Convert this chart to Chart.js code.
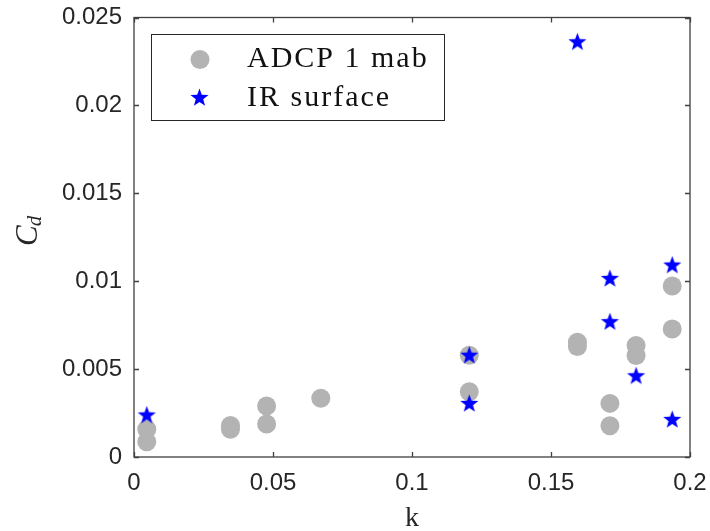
<!DOCTYPE html>
<html>
<head>
<meta charset="utf-8">
<script src="https://cdn.jsdelivr.net/npm/chart.js@4"></script>
<style>
html,body{margin:0;padding:0;background:#fff;}
#wrap{width:710px;height:531px;position:relative;}
</style>
</head>
<body>
<div id="wrap"><canvas id="c"></canvas></div>
<script>
// ---- data ----
const seriesNames = ['ADCP 1 mab', 'IR surface'];
const kADCP  = [0.0046, 0.0046, 0.0347, 0.0347, 0.0477, 0.0477, 0.0672, 0.1206, 0.1206, 0.1595, 0.1595, 0.1712, 0.1712, 0.1806, 0.1806, 0.1936, 0.1936];
const cdADCP = [0.00087, 0.00158, 0.00158, 0.00179, 0.00188, 0.0029, 0.00334, 0.00371, 0.00579, 0.00629, 0.00653, 0.00178, 0.00305, 0.00577, 0.00634, 0.00728, 0.00973];
const kIR    = [0.0046, 0.1206, 0.1206, 0.1595, 0.1712, 0.1712, 0.1806, 0.1936, 0.1936];
const cdIR   = [0.00239, 0.00305, 0.00579, 0.02362, 0.0077, 0.01016, 0.00462, 0.00214, 0.01092];
const xTickValues = [0, 0.05, 0.1, 0.15, 0.2];
const xTickLabels = ['0', '0.05', '0.1', '0.15', '0.2'];
const yTickValues = [0, 0.005, 0.01, 0.015, 0.02, 0.025];
const yTickLabels = ['0', '0.005', '0.01', '0.015', '0.02', '0.025'];
const xTitle = 'k';
const yTitleMain = 'C';
const yTitleSub = 'd';

// ---- styles ----
const GRAY = '#b3b3b3';
const BLUE = '#0000ff';
const AXIS = '#404040';
const TEXT = '#262626';

function makeStar(rOut) {
  const s = Math.ceil(rOut * 2 + 2);
  const cv = document.createElement('canvas');
  cv.width = s; cv.height = s;
  const g = cv.getContext('2d');
  const cx = s / 2, cy = s / 2 + 0.5, rIn = rOut * 0.41;
  g.beginPath();
  for (let i = 0; i < 10; i++) {
    const r = i % 2 === 0 ? rOut : rIn;
    const a = -Math.PI / 2 + i * Math.PI / 5;
    const px = cx + r * Math.cos(a), py = cy + r * Math.sin(a);
    if (i === 0) g.moveTo(px, py); else g.lineTo(px, py);
  }
  g.closePath();
  g.fillStyle = BLUE;
  g.fill();
  return cv;
}
const starImg = makeStar(9.5);
const circleR = 9.5;

const toPts = (xs, ys) => xs.map((x, i) => ({x: x, y: ys[i]}));

function noPad(s) {
  s.paddingTop = 0; s.paddingBottom = 0; s.paddingLeft = 0; s.paddingRight = 0;
}

const framePlugin = {
  id: 'frame',
  afterDatasetsDraw(chart) {
    const ctx = chart.ctx;
    const a = chart.chartArea;
    const xs = chart.scales.x, ys = chart.scales.y;
    ctx.save();
    ctx.strokeStyle = AXIS;
    ctx.lineWidth = 1.3;
    ctx.strokeRect(a.left, a.top, a.right - a.left, a.bottom - a.top);
    const tl = 5;
    ctx.beginPath();
    xTickValues.forEach(v => {
      const px = Math.round(xs.getPixelForValue(v)) + 0.5;
      ctx.moveTo(px, a.bottom); ctx.lineTo(px, a.bottom - tl);
      ctx.moveTo(px, a.top); ctx.lineTo(px, a.top + tl);
    });
    yTickValues.forEach(v => {
      const py = Math.round(ys.getPixelForValue(v)) + 0.5;
      ctx.moveTo(a.left, py); ctx.lineTo(a.left + tl, py);
      ctx.moveTo(a.right, py); ctx.lineTo(a.right - tl, py);
    });
    ctx.stroke();

    // legend
    const L = {x: 151, y: 34, w: 293, h: 86};
    ctx.fillStyle = '#fff';
    ctx.fillRect(L.x, L.y, L.w, L.h);
    ctx.strokeStyle = TEXT;
    ctx.lineWidth = 1;
    ctx.strokeRect(L.x + 0.5, L.y + 0.5, L.w, L.h);
    ctx.fillStyle = GRAY;
    ctx.beginPath();
    ctx.arc(200, 59.5, circleR, 0, Math.PI * 2);
    ctx.fill();
    ctx.drawImage(starImg, 199.5 - starImg.width / 2, 97.5 - starImg.height / 2);
    ctx.fillStyle = '#111';
    ctx.font = '30px "Liberation Serif", serif';
    ctx.textBaseline = 'alphabetic';
    ctx.textAlign = 'left';
    try { ctx.letterSpacing = '2px'; } catch (e) {}
    ctx.fillText(chart.data.datasets[0].label, 247, 67);
    ctx.fillText(chart.data.datasets[1].label, 247, 105.5);
    try { ctx.letterSpacing = '0px'; } catch (e) {}

    // x title
    ctx.fillStyle = TEXT;
    ctx.font = '28px "Liberation Serif", serif';
    ctx.textAlign = 'center';
    ctx.fillText(xTitle, (a.left + a.right) / 2, 526);

    // y title (rotated, with subscript)
    ctx.translate(37, 246);
    ctx.rotate(-Math.PI / 2);
    ctx.textAlign = 'left';
    ctx.font = 'italic 31px "Liberation Serif", serif';
    ctx.fillText(yTitleMain, 0, 0);
    const w = ctx.measureText(yTitleMain).width;
    ctx.font = 'italic 21px "Liberation Serif", serif';
    ctx.fillText(yTitleSub, w - 1, 4);
    ctx.restore();
  }
};

new Chart(document.getElementById('c'), {
  type: 'scatter',
  data: {
    datasets: [
      {
        label: seriesNames[0],
        data: toPts(kADCP, cdADCP),
        pointStyle: 'circle',
        pointRadius: circleR,
        pointHoverRadius: circleR,
        pointBackgroundColor: GRAY,
        pointBorderWidth: 0,
        borderColor: GRAY,
        order: 1
      },
      {
        label: seriesNames[1],
        data: toPts(kIR, cdIR),
        pointStyle: starImg,
        pointRadius: 9,
        pointBackgroundColor: BLUE,
        borderColor: BLUE,
        order: 0
      }
    ]
  },
  options: {
    responsive: true,
    maintainAspectRatio: false,
    animation: false,
    events: [],
    layout: {padding: {left: 0, right: 20, top: 17.5, bottom: 0}},
    plugins: {legend: {display: false}, tooltip: {enabled: false}},
    scales: {
      x: {
        type: 'linear',
        min: 0, max: 0.2,
        afterBuildTicks: s => { s.ticks = xTickValues.map(v => ({value: v})); },
        afterFit: s => { s.height = 74; noPad(s); },
        grid: {display: false, drawTicks: false},
        border: {display: false},
        ticks: {
          padding: 12,
          color: TEXT,
          font: {family: '"Liberation Sans", Arial, sans-serif', size: 24},
          maxRotation: 0,
          callback: (v, i) => xTickLabels[i]
        }
      },
      y: {
        type: 'linear',
        min: 0, max: 0.025,
        afterBuildTicks: s => { s.ticks = yTickValues.map(v => ({value: v})); },
        afterFit: s => { s.width = 134; noPad(s); },
        grid: {display: false, drawTicks: false},
        border: {display: false},
        ticks: {
          padding: 12,
          color: TEXT,
          font: {family: '"Liberation Sans", Arial, sans-serif', size: 24},
          callback: (v, i) => yTickLabels[i]
        }
      }
    }
  },
  plugins: [framePlugin]
});
</script>
</body>
</html>
